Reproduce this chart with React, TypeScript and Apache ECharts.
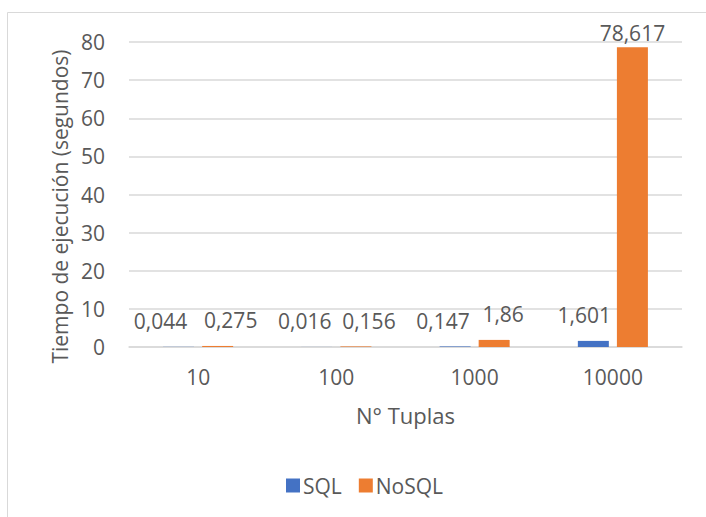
import React, { useEffect, useRef } from "react";
import * as echarts from "echarts";

const categories = ["10", "100", "1000", "10000"];
const sqlValues = [0.044, 0.016, 0.147, 1.601];
const nosqlValues = [0.275, 0.156, 1.86, 78.617];
const seriesNames = ["SQL", "NoSQL"];
const yTicks = { min: 0, max: 80, interval: 10 };

const FONT = "'Open Sans', 'Noto Sans', sans-serif";
const TEXT = "#595959";

const fmt = (v: number) => String(v).replace(".", ",");

export default function App() {
  const ref = useRef<HTMLDivElement>(null);
  useEffect(() => {
    if (!ref.current) return;
    const chart = echarts.init(ref.current, null, { renderer: "svg" });
    const labelBase = {
      show: true,
      position: "top" as const,
      distance: 15,
      color: TEXT,
      fontFamily: FONT,
      fontSize: 21,
      formatter: (p: any) => fmt(p.value),
    };
    const last = categories.length - 1;
    chart.setOption({
      animation: false,
      backgroundColor: "#fff",
      textStyle: { fontFamily: FONT, color: TEXT },
      graphic: [
        {
          type: "rect",
          shape: { x: 7.5, y: 12.5, width: 720, height: 520 },
          style: { fill: "none", stroke: "#D9D9D9", lineWidth: 1 },
          silent: true,
          z: -1,
        },
      ],
      grid: { left: 129, right: 24, top: 42, bottom: 170 },
      legend: {
        data: seriesNames,
        bottom: 16,
        left: 281,
        itemWidth: 14,
        itemHeight: 14,
        itemGap: 17,
        icon: "rect",
        textStyle: { color: TEXT, fontFamily: FONT, fontSize: 21, padding: [0, 0, 0, -2] },
      },
      xAxis: {
        type: "category",
        data: categories,
        name: "N° Tuplas",
        nameLocation: "middle",
        nameGap: 57,
        nameTextStyle: { color: TEXT, fontFamily: FONT, fontSize: 22 },
        axisLine: { lineStyle: { color: "#D9D9D9", width: 1.5 } },
        axisTick: { show: false },
        axisLabel: { color: TEXT, fontFamily: FONT, fontSize: 21, margin: 19 },
      },
      yAxis: {
        type: "value",
        min: yTicks.min,
        max: yTicks.max,
        interval: yTicks.interval,
        name: "Tiempo de ejecución (segundos)",
        nameLocation: "middle",
        nameGap: 58,
        nameRotate: 90,
        nameTextStyle: { color: TEXT, fontFamily: FONT, fontSize: 21, padding: [0, 24, 0, 0] },
        axisLine: { show: false },
        axisTick: { show: false },
        axisLabel: { color: TEXT, fontFamily: FONT, fontSize: 21, margin: 24 },
        splitLine: { lineStyle: { color: "#D9D9D9", width: 1.5 } },
      },
      series: [
        {
          name: seriesNames[0],
          type: "bar",
          data: sqlValues,
          barWidth: 31,
          barGap: "26%",
          itemStyle: { color: "#4472C4" },
          label: labelBase,
          labelLayout: (p: any) => ({ dx: p.dataIndex === last ? -9 : p.dataIndex === 0 ? -18 : -12 }),
        },
        {
          name: seriesNames[1],
          type: "bar",
          data: nosqlValues,
          barWidth: 31,
          barGap: "26%",
          itemStyle: { color: "#ED7D31" },
          label: labelBase,
          labelLayout: (p: any) =>
            p.dataIndex === last ? { dy: 11 } : { dx: p.dataIndex === 2 ? 9 : 13 },
        },
      ],
    });
    return () => chart.dispose();
  }, []);
  return (
    <div
      ref={ref}
      style={{ position: "fixed", left: 0, top: 0, width: 706, height: 517 }}
    />
  );
}
